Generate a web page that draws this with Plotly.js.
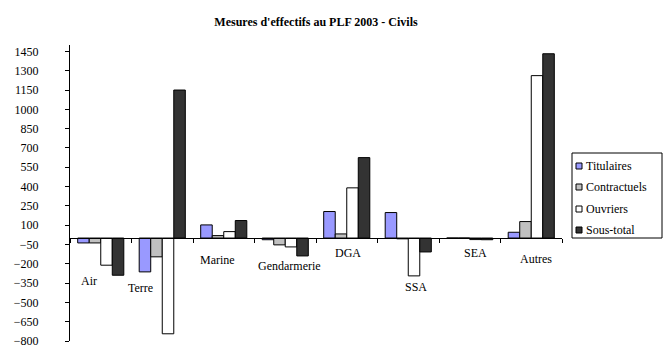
<!DOCTYPE html>
<html>
<head>
<meta charset="utf-8">
<script src="https://cdn.plot.ly/plotly-3.0.1.min.js"></script>
<style>html,body{margin:0;padding:0;background:#fff;}</style>
</head>
<body>
<div id="chart" style="width:670px;height:357px;"></div>
<script>
// ---- data ----
const categories = ["Air", "Terre", "Marine", "Gendarmerie", "DGA", "SSA", "SEA", "Autres"];
const seriesNames = ["Titulaires", "Contractuels", "Ouvriers", "Sous-total"];
const titulaires   = [-38, -263, 102, -13, 206, 198, 0, 45];
const contractuels = [-38, -146, 19, -53, 32, -6, 0, 128];
const ouvriers     = [-211, -744, 50, -69, 390, -294, -12, 1262];
const sousTotal    = [-289, 1150, 136, -139, 625, -108, -13, 1432];
const yTickStart = -800, yTickStep = 150, yMin = -800, yMax = 1500;

// ---- style ----
const colors = ["#9999FF", "#C0C0C0", "#FFFFFF", "#333333"];
const serif = "Liberation Serif";
const W = 670, H = 357;
const M = {l: 70, r: 108, t: 45, b: 16};
const pw = W - M.l - M.r, ph = H - M.t - M.b;
const px = x => (x - M.l) / pw;
const py = y => (H - M.b - y) / ph;

// label placement (category offset, y in data units)
const labelDx = [-0.19, -0.36, -0.1, 0.07, 0.02, 0.13, 0.1, 0.07];
const labelY  = [-330, -392, -167, -221, -120, -384, -113, -159];

const values = [titulaires, contractuels, ouvriers, sousTotal];
const traces = values.map((v, i) => ({
  type: "bar", name: seriesNames[i], x: categories, y: v,
  marker: {color: colors[i], line: {color: "#000", width: 1}},
  showlegend: false, hoverinfo: "x+y+name"
}));

const annotations = categories.map((c, i) => ({
  xref: "x", yref: "y", x: i + labelDx[i], y: labelY[i], text: c,
  showarrow: false, font: {family: serif, size: 12, color: "#000"}
}));

// custom legend
const shapes = [{
  type: "rect", xref: "paper", yref: "paper",
  x0: px(572), x1: px(662), y0: py(238), y1: py(153),
  line: {color: "#000", width: 1}, fillcolor: "#fff"
}];
const legY = [166, 187, 209, 230];
seriesNames.forEach((n, i) => {
  shapes.push({
    type: "rect", xref: "paper", yref: "paper",
    x0: px(576), x1: px(582), y0: py(legY[i] + 3), y1: py(legY[i] - 3),
    line: {color: "#000", width: 1}, fillcolor: colors[i]
  });
  annotations.push({
    xref: "paper", yref: "paper", x: px(584), y: py(legY[i]),
    xanchor: "left", yanchor: "middle", text: n, showarrow: false,
    font: {family: serif, size: 12, color: "#000"}
  });
});

const layout = {
  width: W, height: H, margin: M,
  font: {family: serif, color: "#000"},
  paper_bgcolor: "#fff", plot_bgcolor: "rgba(0,0,0,0)",
  title: {text: "<b>Mesures d'effectifs au PLF 2003 - Civils</b>",
          font: {family: serif, size: 12, color: "#000"},
          x: 0.5, xref: "paper", xanchor: "center", y: 1 - 22 / H, yref: "container", yanchor: "middle"},
  barmode: "group", bargap: 0.25, bargroupgap: 0,
  showlegend: false,
  xaxis: {
    type: "category", anchor: "free", position: (0 - yMin) / (yMax - yMin),
    showline: true, linecolor: "#000", linewidth: 1,
    ticks: "outside", tickson: "boundaries", ticklen: 4, tickcolor: "#000",
    showticklabels: false, showgrid: false, zeroline: false
  },
  yaxis: {
    range: [yMin, yMax], tick0: yTickStart, dtick: yTickStep,
    showline: true, linecolor: "#000", linewidth: 1,
    ticks: "outside", ticklen: 4, tickcolor: "#000", ticklabelstandoff: 24,
    showgrid: false, zeroline: false,
    tickfont: {family: serif, size: 12, color: "#000"}
  },
  annotations: annotations, shapes: shapes
};

Plotly.newPlot("chart", traces, layout, {displayModeBar: false, staticPlot: true});
</script>
</body>
</html>
